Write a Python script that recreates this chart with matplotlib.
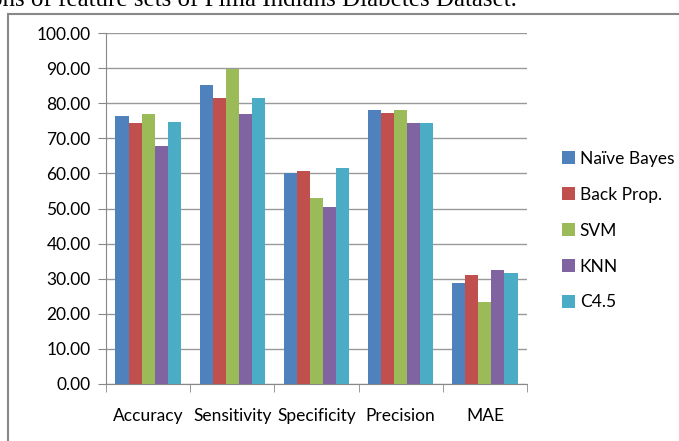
import numpy as np
import matplotlib.pyplot as plt
from matplotlib.patches import Rectangle

# Data
metrics = ['Accuracy', 'Sensitivity', 'Specificity', 'Precision', 'MAE']
naive_bayes = [76.3, 85.2, 60.1, 78.0, 28.8]
back_prop = [74.4, 81.6, 60.7, 77.2, 31.0]
svm = [76.8, 89.7, 52.9, 78.0, 23.3]
knn = [67.7, 76.8, 50.4, 74.4, 32.4]
c45 = [74.6, 81.6, 61.5, 74.4, 31.5]

series = [('Naïve Bayes', naive_bayes, '#4F81BD'),
          ('Back Prop.', back_prop, '#C0504D'),
          ('SVM', svm, '#9BBB59'),
          ('KNN', knn, '#8064A2'),
          ('C4.5', c45, '#4BACC6')]

plt.rcParams['font.family'] = ['Lato', 'DejaVu Sans']

fig = plt.figure(figsize=(6.79, 4.41), dpi=100)
ax = fig.add_axes([106/679, 1-384/441, 421/679, 351/441])

x = np.arange(len(metrics))
w = 0.155
for i, (name, vals, col) in enumerate(series):
    ax.bar(x + (i - 2) * w, vals, width=w, color=col, label=name, zorder=3)

ax.set_xlim(-0.5, 4.5)
ax.set_ylim(0, 100)
ax.set_yticks(np.arange(0, 101, 10))
ax.set_yticklabels([f'{v:.2f}' for v in range(0, 101, 10)], fontsize=12.5)
ax.set_xticks(x)
ax.set_xticklabels(metrics, fontsize=12.5)
ax.set_xticks(np.arange(-0.5, 4.6, 1), minor=True)
ax.tick_params(axis='x', which='major', length=0, pad=17)
ax.tick_params(axis='x', which='minor', length=6, color='#888888', direction='out')
ax.tick_params(axis='y', length=6, color='#888888', pad=5)
ax.grid(axis='y', color='#999999', linewidth=1.0, zorder=0)
for s in ['top', 'right']:
    ax.spines[s].set_visible(False)
for s in ['left', 'bottom']:
    ax.spines[s].set_color('#888888')

fig.legend(loc='upper left', bbox_to_anchor=(546/679, 1-135/441), frameon=False,
           fontsize=12.5, handlelength=0.75, handleheight=0.75, labelspacing=1.15,
           handletextpad=0.3)

# outer frame of the chart (cut off at right and bottom)
fig.patches.append(Rectangle((8/679, -0.1), 1.2, 1-14/441 + 0.1,
                             transform=fig.transFigure, fill=False,
                             edgecolor='#888888', linewidth=1.5))

# clipped caption from the paper above the chart
fig.text(-0.014, 1.0, 'ons of feature sets of Pima Indians Diabetes Dataset.',
         family='Liberation Serif', fontsize=18, va='center', ha='left')

fig.savefig('out.png', dpi=100)
